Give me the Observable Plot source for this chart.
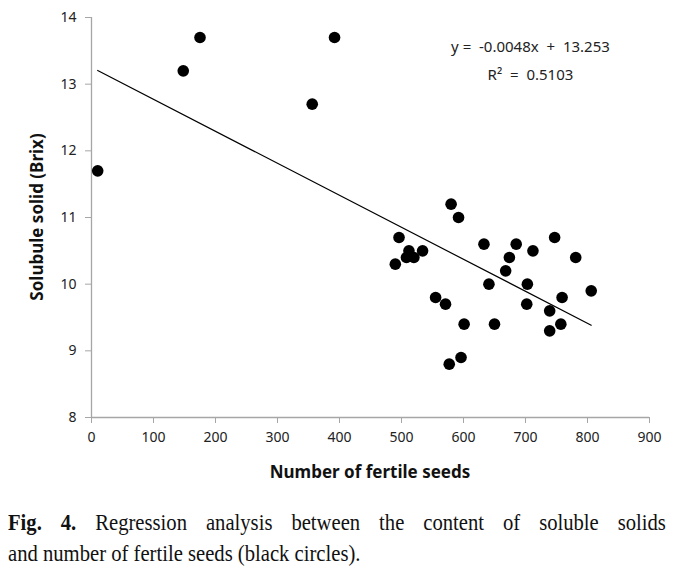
<!DOCTYPE html>
<html>
<head>
<meta charset="utf-8">
<script src="https://cdn.jsdelivr.net/npm/d3@7"></script>
<script src="https://cdn.jsdelivr.net/npm/@observablehq/plot@0.6"></script>
<style>
  body { margin: 0; background: #fff; overflow: hidden; }
  #chart svg { display: block; }
  #caption {
    font-family: "Liberation Serif", "Times New Roman", serif;
    font-size: 24px;
    line-height: 31px;
    width: 765px;
    margin-left: 8px;
    margin-top: 17px;
    color: #111;
    transform: scaleX(0.86);
    transform-origin: left top;
  }
  #caption .l1 { text-align: justify; text-align-last: justify; white-space: nowrap; }
  #caption .l2 { text-align: left; white-space: nowrap; }
</style>
</head>
<body>
<div id="chart"></div>
<div id="caption">
  <div class="l1"><b>Fig. 4.</b> Regression analysis between the content of soluble solids</div>
  <div class="l2">and number of fertile seeds (black circles).</div>
</div>
<script>
// Data
const seeds = [10, 148, 175, 356, 392,
  580, 592, 496, 512, 508, 520, 534, 490, 633, 685, 712, 747, 781, 674, 668,
  641, 703, 806, 555, 571, 702, 759, 739, 601, 650, 757, 739, 596, 577];
const brix = [11.7, 13.2, 13.7, 12.7, 13.7,
  11.2, 11.0, 10.7, 10.5, 10.4, 10.4, 10.5, 10.3, 10.6, 10.6, 10.5, 10.7, 10.4, 10.4, 10.2,
  10.0, 10.0, 9.9, 9.8, 9.7, 9.7, 9.8, 9.6, 9.4, 9.4, 9.4, 9.3, 8.9, 8.8];
const slope = -0.0048;
const intercept = 13.253;
const r2 = 0.5103;
const xTicks = [0, 100, 200, 300, 400, 500, 600, 700, 800, 900];
const yTicks = [8, 9, 10, 11, 12, 13, 14];
const xLabel = "Number of fertile seeds";
const yLabel = "Solubule solid (Brix)";
const eqLabels = [`y =  ${slope}x  +  ${intercept}`, `R²  =  ${r2}`];

const points = seeds.map((s, i) => ({x: s, y: brix[i]}));
const xmin = d3.min(seeds), xmax = d3.max(seeds);
const fitLine = [xmin, xmax].map(x => ({x, y: slope * x + intercept}));
const eqData = [
  {x: 708, y: 13.55, t: eqLabels[0]},
  {x: 708, y: 13.14, t: eqLabels[1]}
];

const axisColor = "#a6a6a6";
const font = "'Noto Sans', 'DejaVu Sans', sans-serif";

const chart = Plot.plot({
  width: 696,
  height: 490,
  marginLeft: 91,
  marginRight: 47,
  marginTop: 17,
  marginBottom: 73,
  style: {fontFamily: font, fontSize: "14px", color: "#222", background: "#fff"},
  x: {domain: [0, 900]},
  y: {domain: [8, 14]},
  marks: [
    Plot.ruleY([8], {stroke: axisColor, strokeWidth: 1.3}),
    Plot.ruleX([0], {stroke: axisColor, strokeWidth: 1.3}),
    Plot.axisX({ticks: xTicks, tickFormat: "d", tickSize: 6, tickPadding: 9, stroke: axisColor, fill: "#222", fontSize: 14, label: null}),
    Plot.axisY({ticks: yTicks, tickFormat: "d", tickSize: 6, tickPadding: 9, stroke: axisColor, fill: "#222", fontSize: 14, label: null}),
    Plot.line(fitLine, {x: "x", y: "y", stroke: "#000", strokeWidth: 1.2}),
    Plot.dot(points, {x: "x", y: "y", r: 5.8, fill: "#000", stroke: "none"}),
    Plot.text(eqData, {x: "x", y: "y", text: "t", fontSize: 15, fill: "#222"})
  ]
});

// Axis titles
const svg = d3.select(chart);
svg.selectAll("text").filter(function() { return this.textContent.includes("  "); }).attr("xml:space", "preserve").style("white-space", "pre");
svg.append("text")
  .attr("x", 370).attr("y", 478)
  .attr("text-anchor", "middle")
  .attr("font-family", font).attr("font-weight", "bold").attr("font-size", 17)
  .attr("fill", "#111")
  .text(xLabel);
svg.append("text")
  .attr("transform", "translate(43,217) rotate(-90)")
  .attr("text-anchor", "middle")
  .attr("font-family", font).attr("font-weight", "bold").attr("font-size", 17)
  .attr("fill", "#111")
  .text(yLabel);

document.getElementById("chart").appendChild(chart);
</script>
</body>
</html>
